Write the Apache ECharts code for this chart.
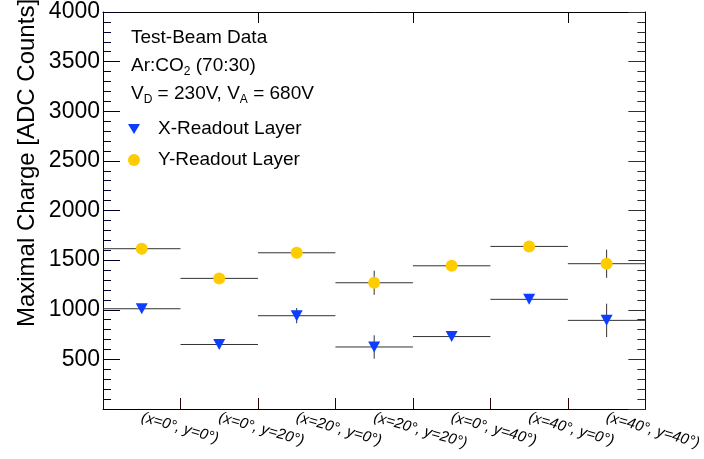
<!DOCTYPE html>
<html>
<head>
<meta charset="utf-8">
<script src="https://cdn.jsdelivr.net/npm/echarts@6/dist/echarts.min.js"></script>
<style>html,body{margin:0;padding:0;background:#fff}#c{width:704px;height:459px}</style>
</head>
<body>
<div id="c"></div>
<script>
var categories = ['(x=0°, y=0°)', '(x=0°, y=20°)', '(x=20°, y=0°)', '(x=20°, y=20°)', '(x=0°, y=40°)', '(x=40°, y=0°)', '(x=40°, y=40°)'];
var xLayer = [1010, 650, 940, 625, 730, 1105, 893];
var xErr = [25, 20, 77, 118, 20, 35, 168];
var yLayer = [1615, 1316, 1574, 1272, 1443, 1638, 1464];
var yErr = [25, 25, 25, 122, 25, 30, 142];
var yTicks = {min: 0, max: 4000, interval: 500};

var FONT = "'Liberation Sans', Arial, sans-serif";
var BLUE = '#0d3dff';
var YELLOW = '#ffcc00';

function errData(vals, errs) {
  return vals.map(function (v, i) { return [i, v, errs[i]]; });
}
function renderErr(params, api) {
  var idx = api.value(0), v = api.value(1), e = api.value(2);
  var c = api.coord([idx, v]);
  var hw = api.size([1, 0])[0] / 2;
  var lo = api.coord([idx, v - e]);
  var hi = api.coord([idx, v + e]);
  return {
    type: 'group',
    children: [
      {type: 'line', shape: {x1: c[0] - hw, y1: c[1], x2: c[0] + hw, y2: c[1]}, style: {stroke: '#333', lineWidth: 1}},
      {type: 'line', shape: {x1: c[0], y1: lo[1], x2: c[0], y2: hi[1]}, style: {stroke: '#333', lineWidth: 1}}
    ]
  };
}

var chart = echarts.init(document.getElementById('c'), null, {renderer: 'canvas'});
function yAxisCfg(pos, labels, tc) {
  return {
    type: 'value', position: pos, min: yTicks.min, max: yTicks.max, interval: yTicks.interval,
    axisLine: {show: true, onZero: false, lineStyle: {color: '#000'}},
    axisTick: {show: true, inside: true, length: 17, lineStyle: {color: tc}},
    minorTick: {show: true, splitNumber: 5, length: 8, lineStyle: {color: tc}},
    splitLine: {show: false},
    axisLabel: labels ? {show: true, margin: 3, fontSize: 23, color: '#000', fontFamily: FONT,
        formatter: function (v) { return v === 0 ? '' : String(v); }} : {show: false}
  };
}
function xAxisCfg(pos, labels, tc) {
  return {
    type: 'category', data: categories, position: pos,
    axisLine: {show: true, onZero: false, lineStyle: {color: '#000'}},
    axisTick: {show: true, inside: true, length: 11, lineStyle: {color: tc}},
    axisLabel: labels ? {show: true, interval: 0, rotate: -16, margin: 8, fontSize: 15, fontStyle: 'italic', color: '#000', fontFamily: FONT} : {show: false},
    splitLine: {show: false}
  };
}
chart.setOption({
  animation: false,
  textStyle: {fontFamily: FONT},
  grid: {left: 103, right: 58, top: 12, bottom: 50},
  xAxis: [xAxisCfg('bottom', true, '#300000'), xAxisCfg('top', false, '#000')],
  yAxis: [yAxisCfg('left', true, '#000030'), yAxisCfg('right', false, '#303030')],
  legend: {
    orient: 'vertical', left: 123, top: 114, itemWidth: 12, itemHeight: 12, itemGap: 11,
    selectedMode: false,
    textStyle: {fontSize: 19, color: '#000', fontFamily: FONT, lineHeight: 20, padding: [0, 0, 0, 13]},
    data: [
      {name: 'X-Readout Layer', icon: 'path://M0,0L12,0L6,10Z', itemStyle: {color: BLUE}},
      {name: 'Y-Readout Layer', icon: 'circle', itemStyle: {color: YELLOW}}
    ]
  },
  graphic: [
    {type: 'text', left: 131, top: 28, style: {text: 'Test-Beam Data', font: '19px ' + FONT, fill: '#000'}},
    {type: 'text', left: 131, top: 56, style: {text: 'Ar:CO{s|2} (70:30)', font: '19px ' + FONT, fill: '#000',
      rich: {s: {fontSize: 12, fontFamily: FONT, padding: [12, 0, 0, 0]}}}},
    {type: 'text', left: 131, top: 84, style: {text: 'V{s|D} = 230V, V{s|A} = 680V', font: '19px ' + FONT, fill: '#000',
      rich: {s: {fontSize: 12, fontFamily: FONT, padding: [12, 0, 0, 0]}}}},
    {type: 'text', x: 27, y: 163, rotation: Math.PI / 2,
     style: {text: 'Maximal Charge [ADC Counts]', font: '24px ' + FONT, fill: '#000', align: 'center', verticalAlign: 'middle'}}
  ],
  series: [
    {name: 'X-err', type: 'custom', renderItem: renderErr, data: errData(xLayer, xErr), z: 2, silent: true},
    {name: 'Y-err', type: 'custom', renderItem: renderErr, data: errData(yLayer, yErr), z: 2, silent: true},
    {name: 'X-Readout Layer', type: 'scatter', data: xLayer, symbol: 'triangle', symbolRotate: 180,
     symbolSize: [12, 11], itemStyle: {color: BLUE, opacity: 1}, z: 5},
    {name: 'Y-Readout Layer', type: 'scatter', data: yLayer, symbol: 'circle', symbolSize: 12,
     itemStyle: {color: YELLOW, opacity: 1}, z: 5}
  ]
});
</script>
</body>
</html>
